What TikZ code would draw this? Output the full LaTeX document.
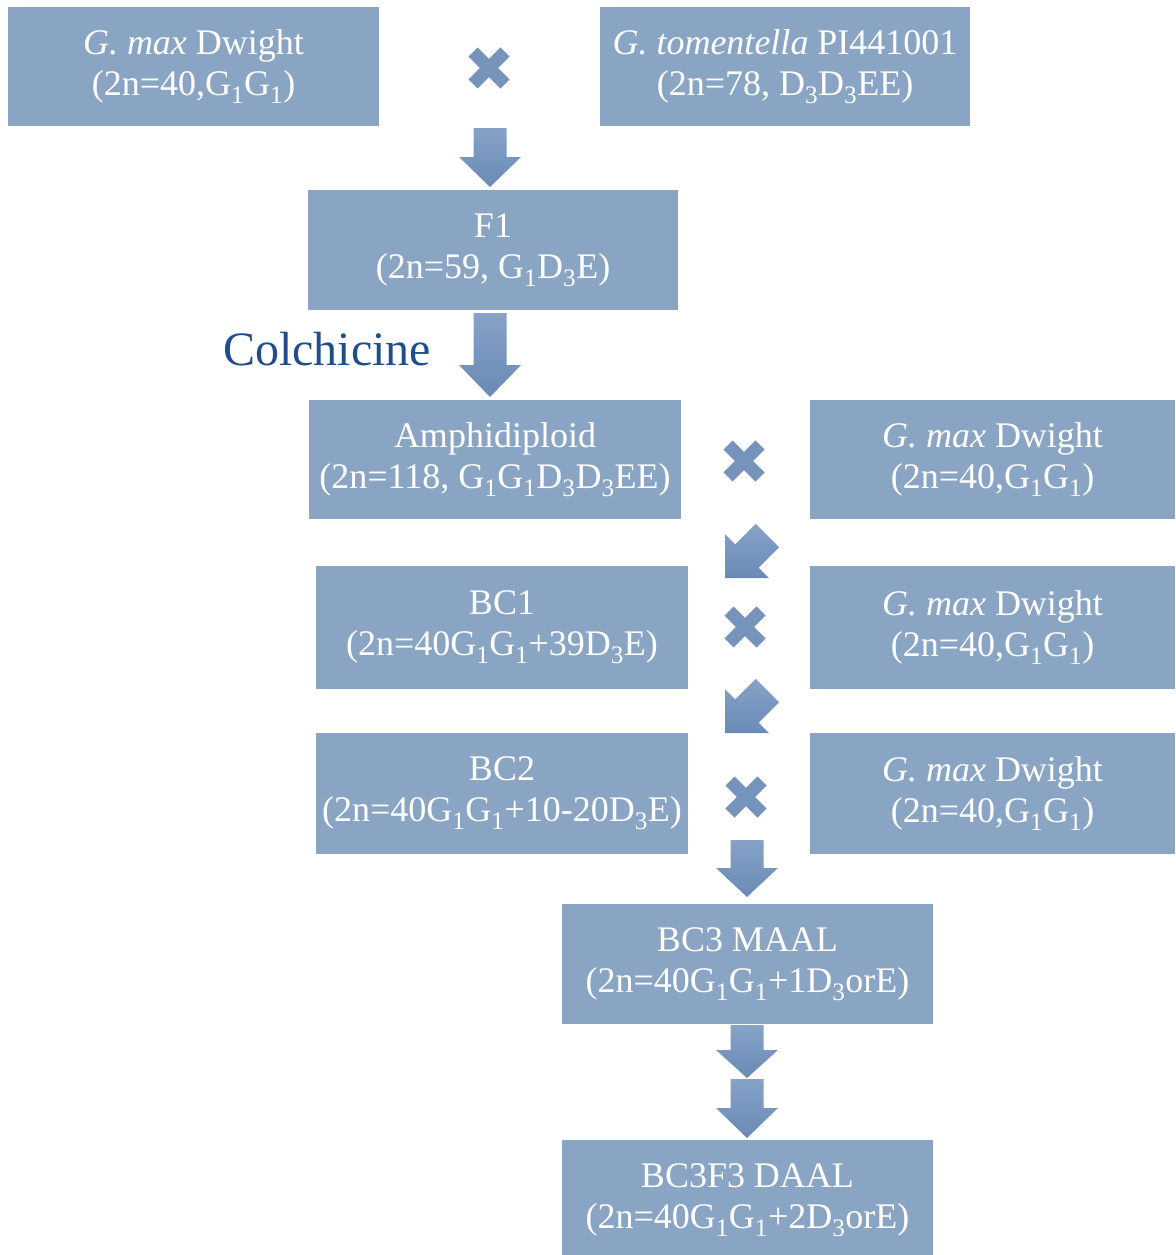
\documentclass[tikz,border=0pt]{standalone}
\usepackage{fontspec}
\setmainfont{Liberation Serif}
\definecolor{boxblue}{HTML}{8AA5C4}
\definecolor{arrtop}{HTML}{86A2C7}
\definecolor{arrbot}{HTML}{6A8AB5}
\definecolor{colchblue}{HTML}{1F4E8C}
\tikzset{
  box/.style={fill=boxblue, text=white, align=center, inner sep=0pt,
    font=\fontsize{36}{41}\selectfont},
  arrowshade/.style={top color=arrtop, bottom color=arrbot, draw=none},
  crossarm/.style={line width=13pt, draw=arrbot!92!white},
}
% tip coordinate, rotation, total length, head length
\newcommand\blockarrow[4]{%
  \shade[arrowshade, shift={#1}, rotate=#2]
    (0,0) -- (-31,-#4) -- (-16.5,-#4) -- (-16.5,-#3) -- (16.5,-#3)
    -- (16.5,-#4) -- (31,-#4) -- cycle;}
\newcommand\crossmark[1]{%
  \draw[crossarm, shift={#1}] (-16,-16) -- (16,16) (-16,16) -- (16,-16);}
\begin{document}
\begin{tikzpicture}[x=1pt, y=-1pt]
\useasboundingbox (0,0) rectangle (1175,1255);
% boxes
\node[box, minimum width=371pt, minimum height=119pt] (p1) at (193.5,66.5)
  {\textit{G. max} Dwight\\(2n=40,G\textsubscript{1}G\textsubscript{1})};
\node[box, minimum width=370pt, minimum height=119pt] (p2) at (785,66.5)
  {\textit{G. tomentella} PI441001\\(2n=78, D\textsubscript{3}D\textsubscript{3}EE)};
\node[box, minimum width=370pt, minimum height=120pt] (f1) at (493,250)
  {F1\\(2n=59, G\textsubscript{1}D\textsubscript{3}E)};
\node[box, minimum width=372pt, minimum height=119pt] (amph) at (495,459.5)
  {Amphidiploid\\(2n=118, G\textsubscript{1}G\textsubscript{1}D\textsubscript{3}D\textsubscript{3}EE)};
\node[box, minimum width=365pt, minimum height=119pt] (r1) at (992.5,459.5)
  {\textit{G. max} Dwight\\(2n=40,G\textsubscript{1}G\textsubscript{1})};
\node[box, minimum width=372pt, minimum height=123pt] (bc1) at (502,627.5)
  {BC1\\(2n=40G\textsubscript{1}G\textsubscript{1}+39D\textsubscript{3}E)};
\node[box, minimum width=365pt, minimum height=123pt] (r2) at (992.5,627.5)
  {\textit{G. max} Dwight\\(2n=40,G\textsubscript{1}G\textsubscript{1})};
\node[box, minimum width=372pt, minimum height=121pt] (bc2) at (502,793.5)
  {BC2\\(2n=40G\textsubscript{1}G\textsubscript{1}+10-20D\textsubscript{3}E)};
\node[box, minimum width=365pt, minimum height=121pt] (r3) at (992.5,793.5)
  {\textit{G. max} Dwight\\(2n=40,G\textsubscript{1}G\textsubscript{1})};
\node[box, minimum width=371pt, minimum height=120pt] (bc3) at (747.5,964)
  {BC3 MAAL\\(2n=40G\textsubscript{1}G\textsubscript{1}+1D\textsubscript{3}orE)};
\node[box, minimum width=371pt, minimum height=120pt] (daal) at (747.5,1200)
  {BC3F3 DAAL\\(2n=40G\textsubscript{1}G\textsubscript{1}+2D\textsubscript{3}orE)};
% label
\node[text=colchblue, font=\fontsize{48}{55}\selectfont, inner sep=0pt] (colch) at (327,349) {Colchicine};
% crosses
\crossmark{(489,68)}
\crossmark{(744,461)}
\crossmark{(745,627)}
\crossmark{(746,797)}
% arrows
\blockarrow{(490,187)}{0}{59}{30}
\blockarrow{(490,397)}{0}{84}{32}
\blockarrow{(725,578)}{-45}{60}{31}
\blockarrow{(725,733)}{-45}{60}{31}
\blockarrow{(747,897)}{0}{57}{29}
\blockarrow{(747,1078)}{0}{53}{28}
\blockarrow{(747,1138)}{0}{59}{30}
\end{tikzpicture}
\end{document}
